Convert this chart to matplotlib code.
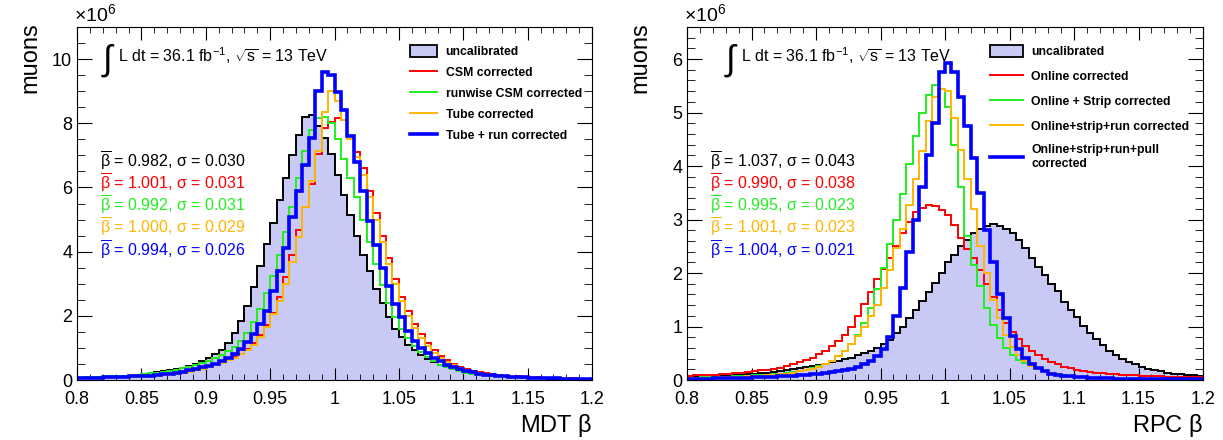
import numpy as np
import matplotlib.pyplot as plt
from matplotlib.patches import Patch
from matplotlib.lines import Line2D
from matplotlib.ticker import MultipleLocator

plt.rcParams['font.family'] = ['Liberation Sans', 'DejaVu Sans']
plt.rcParams['mathtext.fontset'] = 'custom'
plt.rcParams['mathtext.rm'] = 'Liberation Sans'
plt.rcParams['mathtext.it'] = 'Liberation Sans:italic'

# 80 bins of width 0.005 between 0.8 and 1.2, counts in units of 1e6 muons
edges = np.linspace(0.8, 1.2, 81)

# ---- MDT beta ----
mdt_uncal = [0.06, 0.07, 0.08, 0.09, 0.10, 0.11, 0.12, 0.14, 0.15, 0.17,
             0.19, 0.21, 0.24, 0.27, 0.30, 0.34, 0.38, 0.43, 0.50, 0.58,
             0.68, 0.80, 0.95, 1.15, 1.45, 1.85, 2.30, 2.90, 3.55, 4.25,
             4.90, 5.60, 6.30, 7.00, 7.65, 8.20, 8.25, 7.90, 7.55, 7.05,
             6.40, 5.75, 5.15, 4.50, 3.90, 3.40, 2.85, 2.40, 1.95, 1.60,
             1.33, 1.10, 0.92, 0.78, 0.66, 0.56, 0.48, 0.41, 0.35, 0.30,
             0.26, 0.22, 0.19, 0.16, 0.14, 0.12, 0.10, 0.09, 0.08, 0.07,
             0.06, 0.05, 0.05, 0.04, 0.04, 0.03, 0.03, 0.03, 0.02, 0.02]
mdt_csm = [0.05, 0.05, 0.06, 0.06, 0.07, 0.08, 0.08, 0.09, 0.10, 0.11,
           0.12, 0.13, 0.15, 0.16, 0.18, 0.20, 0.23, 0.26, 0.30, 0.36,
           0.42, 0.48, 0.55, 0.63, 0.72, 0.82, 0.96, 1.15, 1.40, 1.70,
           2.10, 2.60, 3.20, 3.90, 4.66, 5.40, 6.10, 7.05, 7.85, 8.05,
           8.15, 8.10, 7.60, 7.10, 6.60, 5.90, 5.20, 4.50, 3.80, 3.15,
           2.60, 2.15, 1.75, 1.42, 1.15, 0.93, 0.76, 0.62, 0.51, 0.42,
           0.35, 0.29, 0.25, 0.21, 0.18, 0.16, 0.14, 0.12, 0.11, 0.10,
           0.09, 0.08, 0.07, 0.07, 0.06, 0.06, 0.05, 0.05, 0.04, 0.04]
mdt_runcsm = [0.07, 0.08, 0.09, 0.10, 0.11, 0.12, 0.13, 0.14, 0.16, 0.17,
              0.19, 0.21, 0.23, 0.26, 0.29, 0.32, 0.36, 0.41, 0.46, 0.53,
              0.60, 0.68, 0.78, 0.90, 1.03, 1.22, 1.48, 1.80, 2.20, 2.70,
              3.25, 3.90, 4.60, 5.40, 6.30, 7.15, 7.80, 8.17, 8.20, 8.00,
              7.50, 6.90, 6.30, 5.70, 5.00, 4.30, 3.60, 2.95, 2.40, 1.95,
              1.60, 1.30, 1.06, 0.87, 0.71, 0.58, 0.48, 0.40, 0.33, 0.28,
              0.23, 0.20, 0.17, 0.15, 0.13, 0.11, 0.10, 0.09, 0.08, 0.07,
              0.07, 0.06, 0.06, 0.05, 0.05, 0.05, 0.04, 0.04, 0.04, 0.03]
mdt_tube = [0.05, 0.05, 0.06, 0.06, 0.07, 0.08, 0.08, 0.09, 0.10, 0.11,
            0.12, 0.13, 0.15, 0.16, 0.18, 0.20, 0.23, 0.26, 0.30, 0.35,
            0.40, 0.46, 0.53, 0.61, 0.70, 0.80, 0.93, 1.10, 1.35, 1.64,
            2.05, 2.47, 3.00, 3.67, 4.45, 5.40, 6.20, 7.15, 8.35, 9.00,
            8.70, 8.10, 7.50, 6.95, 6.40, 5.70, 5.00, 4.30, 3.60, 3.00,
            2.45, 2.00, 1.62, 1.30, 1.05, 0.85, 0.69, 0.56, 0.46, 0.38,
            0.31, 0.26, 0.22, 0.18, 0.16, 0.14, 0.12, 0.11, 0.10, 0.09,
            0.08, 0.07, 0.06, 0.06, 0.05, 0.05, 0.04, 0.04, 0.04, 0.03]
mdt_tuberun = [0.05, 0.06, 0.06, 0.07, 0.08, 0.08, 0.09, 0.10, 0.11, 0.12,
               0.13, 0.14, 0.16, 0.18, 0.20, 0.23, 0.26, 0.30, 0.34, 0.39,
               0.44, 0.50, 0.58, 0.68, 0.80, 0.96, 1.17, 1.43, 1.74, 2.16,
               2.78, 3.40, 4.10, 5.07, 5.90, 6.70, 7.55, 9.00, 9.60, 9.50,
               8.97, 8.40, 7.60, 6.80, 5.90, 4.97, 4.20, 3.50, 2.94, 2.36,
               1.95, 1.53, 1.22, 1.00, 0.84, 0.70, 0.58, 0.48, 0.40, 0.34,
               0.28, 0.24, 0.20, 0.17, 0.15, 0.13, 0.11, 0.10, 0.09, 0.08,
               0.07, 0.06, 0.06, 0.05, 0.05, 0.04, 0.04, 0.04, 0.03, 0.03]

# ---- RPC beta ----
rpc_uncal = [0.050, 0.055, 0.060, 0.065, 0.070, 0.075, 0.080, 0.090, 0.100, 0.110,
             0.12, 0.13, 0.14, 0.15, 0.17, 0.18, 0.20, 0.22, 0.24, 0.26,
             0.28, 0.30, 0.33, 0.36, 0.39, 0.42, 0.46, 0.50, 0.55, 0.60,
             0.67, 0.75, 0.88, 1.00, 1.15, 1.30, 1.48, 1.65, 1.82, 2.00,
             2.20, 2.34, 2.50, 2.62, 2.74, 2.83, 2.88, 2.91, 2.88, 2.83,
             2.74, 2.62, 2.46, 2.28, 2.12, 1.97, 1.80, 1.66, 1.45, 1.30,
             1.17, 1.01, 0.88, 0.76, 0.65, 0.55, 0.47, 0.40, 0.34, 0.29,
             0.25, 0.21, 0.18, 0.16, 0.14, 0.12, 0.11, 0.10, 0.09, 0.08]
rpc_online = [0.080, 0.085, 0.090, 0.095, 0.100, 0.11, 0.12, 0.13, 0.14, 0.15,
              0.16, 0.18, 0.19, 0.21, 0.23, 0.26, 0.29, 0.33, 0.37, 0.42,
              0.48, 0.55, 0.63, 0.72, 0.84, 1.00, 1.20, 1.42, 1.65, 1.88,
              2.08, 2.28, 2.50, 2.75, 2.95, 3.14, 3.22, 3.27, 3.25, 3.18,
              3.08, 2.90, 2.65, 2.45, 2.28, 2.05, 1.80, 1.55, 1.30, 1.07,
              0.90, 0.76, 0.64, 0.54, 0.46, 0.39, 0.34, 0.29, 0.25, 0.22,
              0.19, 0.17, 0.15, 0.14, 0.13, 0.12, 0.11, 0.10, 0.09, 0.09,
              0.08, 0.08, 0.07, 0.07, 0.06, 0.06, 0.06, 0.05, 0.05, 0.05]
rpc_strip = [0.040, 0.045, 0.050, 0.050, 0.055, 0.060, 0.065, 0.070, 0.075, 0.080,
             0.085, 0.09, 0.10, 0.11, 0.12, 0.13, 0.15, 0.17, 0.19, 0.22,
             0.26, 0.30, 0.36, 0.44, 0.54, 0.67, 0.84, 1.06, 1.35, 1.70,
             2.10, 2.55, 3.00, 3.48, 4.04, 4.56, 4.99, 5.33, 5.52, 5.45,
             5.10, 4.40, 3.60, 2.70, 2.15, 1.75, 1.35, 1.02, 0.78, 0.60,
             0.47, 0.38, 0.31, 0.26, 0.21, 0.17, 0.14, 0.11, 0.09, 0.075,
             0.060, 0.050, 0.045, 0.040, 0.035, 0.030, 0.030, 0.025, 0.025, 0.020,
             0.020, 0.020, 0.015, 0.015, 0.015, 0.010, 0.010, 0.010, 0.010, 0.010]
rpc_run = [0.035, 0.040, 0.040, 0.045, 0.045, 0.050, 0.055, 0.060, 0.065, 0.070,
           0.075, 0.08, 0.09, 0.10, 0.11, 0.12, 0.14, 0.16, 0.18, 0.21,
           0.25, 0.30, 0.36, 0.44, 0.54, 0.67, 0.82, 1.00, 1.20, 1.41,
           1.72, 2.06, 2.46, 2.83, 3.27, 3.76, 4.28, 4.85, 5.30, 5.45,
           5.40, 4.90, 4.30, 3.75, 3.20, 2.50, 2.00, 1.50, 1.15, 0.85,
           0.62, 0.46, 0.35, 0.27, 0.21, 0.16, 0.13, 0.10, 0.08, 0.07,
           0.060, 0.050, 0.045, 0.040, 0.035, 0.030, 0.030, 0.025, 0.025, 0.020,
           0.020, 0.020, 0.015, 0.015, 0.015, 0.010, 0.010, 0.010, 0.010, 0.010]
rpc_pull = [0.020, 0.020, 0.025, 0.025, 0.030, 0.030, 0.035, 0.035, 0.040, 0.045,
            0.050, 0.055, 0.060, 0.065, 0.070, 0.075, 0.080, 0.090, 0.100, 0.105,
            0.11, 0.13, 0.15, 0.17, 0.19, 0.21, 0.25, 0.30, 0.36, 0.45,
            0.58, 0.80, 1.20, 1.72, 2.40, 3.00, 3.60, 4.20, 4.80, 5.75,
            5.93, 5.75, 5.30, 4.75, 4.15, 3.50, 2.80, 2.20, 1.60, 1.15,
            0.82, 0.58, 0.42, 0.30, 0.22, 0.16, 0.12, 0.10, 0.08, 0.07,
            0.060, 0.050, 0.040, 0.035, 0.030, 0.030, 0.025, 0.025, 0.020, 0.020,
            0.020, 0.015, 0.015, 0.015, 0.010, 0.010, 0.010, 0.010, 0.010, 0.010]

mdt_labels = ['uncalibrated', 'CSM corrected', 'runwise CSM corrected',
              'Tube corrected', 'Tube + run corrected']
rpc_labels = ['uncalibrated', 'Online corrected', 'Online + Strip corrected',
              'Online+strip+run corrected', 'Online+strip+run+pull\ncorrected']
mdt_stats = [(0.982, 0.030), (1.001, 0.031), (0.992, 0.031), (1.000, 0.029), (0.994, 0.026)]
rpc_stats = [(1.037, 0.043), (0.990, 0.038), (0.995, 0.023), (1.001, 0.023), (1.004, 0.021)]

fill_col = '#c9c9f5'
colors = ['black', '#ff0000', '#22ee22', '#ffb600', '#0000ff']
widths = [1.4, 1.4, 1.4, 1.4, 2.6]

fig = plt.figure(figsize=(12.23, 4.4), dpi=100)
ax1 = fig.add_axes([77 / 1223, 60 / 440, 515 / 1223, 353 / 440])
ax2 = fig.add_axes([687 / 1223, 60 / 440, 516 / 1223, 353 / 440])


def draw_panel(ax, hists, labels, stats, ymax, ymajor, yminor, xlabel,
               lumi_x, leg_x, leg_space, leg_hlen):
    ax.stairs(hists[0], edges, fill=True, color=fill_col, zorder=1)
    for h, c, lw in zip(hists, colors, widths):
        ax.stairs(h, edges, color=c, linewidth=lw, zorder=2, baseline=None)
    ax.set_xlim(0.8, 1.2)
    ax.set_ylim(0, ymax)
    ax.xaxis.set_major_locator(MultipleLocator(0.05))
    ax.xaxis.set_minor_locator(MultipleLocator(0.01))
    ax.yaxis.set_major_locator(MultipleLocator(ymajor))
    ax.yaxis.set_minor_locator(MultipleLocator(yminor))
    ax.xaxis.set_major_formatter(plt.FuncFormatter(lambda v, p: f'{v:g}'))
    ax.tick_params(which='both', direction='in', top=True, right=True, labelsize=13)
    ax.tick_params(which='major', axis='x', length=9)
    ax.tick_params(which='minor', axis='x', length=4.5)
    ax.tick_params(which='major', axis='y', length=11)
    ax.tick_params(which='minor', axis='y', length=5.5)
    ax.tick_params(axis='x', pad=8)
    ax.set_xlabel(xlabel, loc='right', fontsize=17, labelpad=3)
    ax.text(-0.005, 1.005, r'$\times10^{6}$', transform=ax.transAxes,
            fontsize=14, ha='left', va='bottom')
    # integrated luminosity and centre-of-mass energy
    ax.text(lumi_x, 0.905, r'$\int$', transform=ax.transAxes, fontsize=25,
            ha='left', va='center')
    ax.text(lumi_x + 0.033, 0.918, r'L dt = 36.1 fb$^{\mathregular{-1}}$, $\sqrt{\mathregular{s}}$ = 13 TeV',
            transform=ax.transAxes, fontsize=11.5, ha='left', va='center')
    for k, ((b, s), c) in enumerate(zip(stats, colors)):
        ax.text(0.045, 0.62 - 0.063 * k,
                r'$\overline{\mathregular{\beta}}$' + f' = {b:.3f}, ' + r'$\mathregular{\sigma}$' + f' = {s:.3f}',
                transform=ax.transAxes, fontsize=11.5, color=c, ha='left', va='center')
    handles = [Patch(facecolor=fill_col, edgecolor='black', linewidth=1.3)]
    handles += [Line2D([], [], color=c, linewidth=lw) for c, lw in zip(colors[1:], widths[1:])]
    ax.legend(handles, labels, loc='upper left', bbox_to_anchor=(leg_x, 0.949),
              frameon=False, prop={'weight': 'bold', 'size': 8.8},
              handlelength=leg_hlen, handleheight=1.15, labelspacing=leg_space,
              borderaxespad=0, borderpad=0, handletextpad=0.7)


draw_panel(ax1, [mdt_uncal, mdt_csm, mdt_runcsm, mdt_tube, mdt_tuberun],
           mdt_labels, mdt_stats, 11, 2, 0.5, r'MDT $\mathregular{\beta}$',
           0.046, 0.647, 0.63, 2.2)
draw_panel(ax2, [rpc_uncal, rpc_online, rpc_strip, rpc_run, rpc_pull],
           rpc_labels, rpc_stats, 6.6, 1, 0.2, r'RPC $\mathregular{\beta}$',
           0.072, 0.587, 0.95, 2.7)

fig.text(30 / 1223, 1 - 22 / 440, 'muons', rotation=90, fontsize=17, ha='center', va='top')
fig.text(640 / 1223, 1 - 22 / 440, 'muons', rotation=90, fontsize=17, ha='center', va='top')

fig.savefig('out.png', dpi=100)
